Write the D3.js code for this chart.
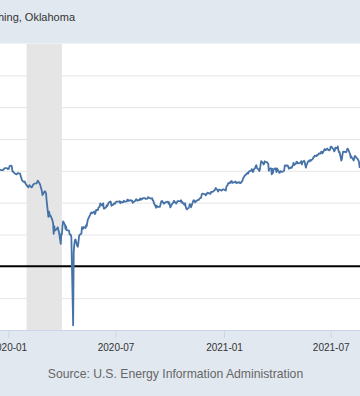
<!DOCTYPE html>
<html>
<head>
<meta charset="utf-8">
<script src="https://cdn.jsdelivr.net/npm/d3@7"></script>
<style>
  html, body { margin: 0; padding: 0; background: #e1e8f0; }
  svg { display: block; font-family: "Liberation Sans", Arial, sans-serif; }
</style>
</head>
<body>
<svg id="chart" width="360" height="396"></svg>
<script>
var TITLE = "Crude Oil Prices: West Texas Intermediate (WTI) - Cushing, Oklahoma";
var SOURCE = "Source: U.S. Energy Information Administration";

// tick labels shown on the x axis
var X_TICKS = ["2020-01-01", "2020-07-01", "2021-01-01", "2021-07-01"];
var Y_GRID = [-20, 0, 20, 40, 60, 80, 100, 120];

// recession shading (start, end)
var RECESSION = ["2020-02-01", "2020-04-01"];

// daily WTI spot price, dollars per barrel
var obsDates = [
  "2019-12-18","2019-12-20","2019-12-23","2019-12-26","2019-12-27","2019-12-30","2019-12-31",
  "2020-01-02","2020-01-03","2020-01-06","2020-01-07","2020-01-08","2020-01-09","2020-01-10","2020-01-13","2020-01-15","2020-01-17","2020-01-21","2020-01-22","2020-01-23","2020-01-24","2020-01-27","2020-01-29","2020-01-30","2020-01-31",
  "2020-02-03","2020-02-04","2020-02-06","2020-02-07","2020-02-10","2020-02-12","2020-02-14","2020-02-18","2020-02-20","2020-02-21","2020-02-24","2020-02-25","2020-02-26","2020-02-27","2020-02-28",
  "2020-03-02","2020-03-03","2020-03-04","2020-03-05","2020-03-06","2020-03-09","2020-03-10","2020-03-11","2020-03-12","2020-03-13","2020-03-16","2020-03-17","2020-03-18","2020-03-19","2020-03-20","2020-03-23","2020-03-24","2020-03-25","2020-03-26","2020-03-27","2020-03-30","2020-03-31",
  "2020-04-01","2020-04-02","2020-04-03","2020-04-06","2020-04-07","2020-04-08","2020-04-09","2020-04-13","2020-04-14","2020-04-15","2020-04-16","2020-04-17","2020-04-20","2020-04-21","2020-04-22","2020-04-23","2020-04-24","2020-04-27","2020-04-28","2020-04-29","2020-04-30",
  "2020-05-01","2020-05-04","2020-05-05","2020-05-06","2020-05-07","2020-05-08","2020-05-11","2020-05-12","2020-05-13","2020-05-14","2020-05-15","2020-05-18","2020-05-19","2020-05-20","2020-05-21","2020-05-22","2020-05-26","2020-05-27","2020-05-28","2020-05-29",
  "2020-06-01","2020-06-02","2020-06-03","2020-06-04","2020-06-05","2020-06-08","2020-06-09","2020-06-10","2020-06-11","2020-06-12","2020-06-15","2020-06-16","2020-06-17","2020-06-18","2020-06-19","2020-06-22","2020-06-23","2020-06-24","2020-06-25","2020-06-26","2020-06-29","2020-06-30",
  "2020-07-01","2020-07-02","2020-07-06","2020-07-07","2020-07-08","2020-07-09","2020-07-10","2020-07-13","2020-07-14","2020-07-15","2020-07-16","2020-07-17","2020-07-20","2020-07-21","2020-07-22","2020-07-23","2020-07-24","2020-07-27","2020-07-28","2020-07-29","2020-07-30","2020-07-31",
  "2020-08-03","2020-08-04","2020-08-05","2020-08-06","2020-08-07","2020-08-10","2020-08-11","2020-08-12","2020-08-13","2020-08-14","2020-08-17","2020-08-18","2020-08-19","2020-08-20","2020-08-21","2020-08-24","2020-08-25","2020-08-26","2020-08-27","2020-08-28","2020-08-31",
  "2020-09-01","2020-09-02","2020-09-03","2020-09-04","2020-09-08","2020-09-09","2020-09-10","2020-09-11","2020-09-14","2020-09-15","2020-09-16","2020-09-17","2020-09-18","2020-09-21","2020-09-22","2020-09-23","2020-09-24","2020-09-25","2020-09-28","2020-09-29","2020-09-30",
  "2020-10-01","2020-10-02","2020-10-05","2020-10-06","2020-10-07","2020-10-08","2020-10-09","2020-10-12","2020-10-13","2020-10-14","2020-10-15","2020-10-16","2020-10-19","2020-10-20","2020-10-21","2020-10-22","2020-10-23","2020-10-26","2020-10-27","2020-10-28","2020-10-29","2020-10-30",
  "2020-11-02","2020-11-03","2020-11-04","2020-11-05","2020-11-06","2020-11-09","2020-11-10","2020-11-11","2020-11-12","2020-11-13","2020-11-16","2020-11-17","2020-11-18","2020-11-19","2020-11-20","2020-11-23","2020-11-24","2020-11-25","2020-11-27","2020-11-30",
  "2020-12-01","2020-12-02","2020-12-03","2020-12-04","2020-12-07","2020-12-08","2020-12-09","2020-12-10","2020-12-11","2020-12-14","2020-12-15","2020-12-16","2020-12-17","2020-12-18","2020-12-21","2020-12-22","2020-12-23","2020-12-24","2020-12-28","2020-12-29","2020-12-30","2020-12-31",
  "2021-01-04","2021-01-05","2021-01-06","2021-01-07","2021-01-08","2021-01-11","2021-01-12","2021-01-13","2021-01-14","2021-01-15","2021-01-19","2021-01-20","2021-01-21","2021-01-22","2021-01-25","2021-01-26","2021-01-27","2021-01-28","2021-01-29",
  "2021-02-01","2021-02-02","2021-02-03","2021-02-04","2021-02-05","2021-02-08","2021-02-09","2021-02-10","2021-02-11","2021-02-12","2021-02-16","2021-02-17","2021-02-18","2021-02-19","2021-02-22","2021-02-23","2021-02-24","2021-02-25","2021-02-26",
  "2021-03-01","2021-03-02","2021-03-03","2021-03-04","2021-03-05","2021-03-08","2021-03-09","2021-03-10","2021-03-11","2021-03-12","2021-03-15","2021-03-16","2021-03-17","2021-03-18","2021-03-19","2021-03-22","2021-03-23","2021-03-24","2021-03-25","2021-03-26","2021-03-29","2021-03-30","2021-03-31",
  "2021-04-01","2021-04-05","2021-04-06","2021-04-07","2021-04-08","2021-04-09","2021-04-12","2021-04-13","2021-04-14","2021-04-15","2021-04-16","2021-04-19","2021-04-20","2021-04-21","2021-04-22","2021-04-23","2021-04-26","2021-04-27","2021-04-28","2021-04-29","2021-04-30",
  "2021-05-03","2021-05-04","2021-05-05","2021-05-06","2021-05-07","2021-05-10","2021-05-11","2021-05-12","2021-05-13","2021-05-14","2021-05-17","2021-05-18","2021-05-19","2021-05-20","2021-05-21","2021-05-24","2021-05-25","2021-05-26","2021-05-27","2021-05-28",
  "2021-06-01","2021-06-02","2021-06-03","2021-06-04","2021-06-07","2021-06-08","2021-06-09","2021-06-10","2021-06-11","2021-06-14","2021-06-15","2021-06-16","2021-06-17","2021-06-18","2021-06-21","2021-06-22","2021-06-23","2021-06-24","2021-06-25","2021-06-28","2021-06-29","2021-06-30",
  "2021-07-01","2021-07-02","2021-07-06","2021-07-07","2021-07-08","2021-07-09","2021-07-12","2021-07-13","2021-07-14","2021-07-15","2021-07-16","2021-07-19","2021-07-20","2021-07-21","2021-07-22","2021-07-23","2021-07-26","2021-07-27","2021-07-28","2021-07-29","2021-07-30",
  "2021-08-02","2021-08-03","2021-08-04","2021-08-05","2021-08-06","2021-08-09","2021-08-10","2021-08-11","2021-08-12","2021-08-13","2021-08-16","2021-08-17","2021-08-18","2021-08-19","2021-08-20"
];
var obsValues = [
  60.9,60.4,60.5,61.7,61.7,61.7,61.1,
  61.2,63.0,63.3,62.7,59.6,59.6,59.0,58.1,57.8,58.5,58.3,56.7,55.6,54.2,53.1,53.3,52.1,51.6,
  50.1,49.6,51.0,50.3,49.6,51.2,52.0,52.1,53.8,53.4,51.4,49.9,48.7,47.1,44.8,
  46.7,47.2,46.8,45.9,41.3,31.1,34.4,32.9,31.5,31.7,28.7,26.9,20.4,25.2,22.4,23.4,24.0,24.5,22.6,21.5,14.1,20.5,
  20.3,25.3,28.3,26.2,23.6,25.1,22.8,22.4,20.1,19.9,19.9,18.3,-37.0,8.9,13.8,16.5,16.9,12.8,12.3,15.1,18.8,
  19.8,20.5,24.6,23.9,23.6,24.7,24.1,25.8,25.3,27.6,29.4,31.7,32.5,33.5,33.9,33.3,34.4,32.8,33.7,35.5,
  35.4,36.8,37.3,37.4,39.6,38.2,38.9,39.6,36.3,36.3,37.1,38.4,37.9,38.8,39.8,40.7,40.4,38.0,38.7,38.5,39.7,39.3,
  39.8,40.7,40.6,40.6,40.9,39.6,40.6,40.1,40.3,41.2,40.8,40.6,40.8,41.9,41.9,41.1,41.3,41.6,41.1,41.3,39.9,40.3,
  41.0,41.7,42.2,41.9,41.2,41.9,41.6,42.7,42.2,42.0,42.9,42.9,42.9,42.8,42.3,42.6,43.4,43.4,43.0,42.9,42.6,
  42.8,41.5,41.4,39.8,36.8,38.1,37.3,37.3,37.3,38.3,40.2,41.0,41.1,39.3,39.8,39.9,40.3,40.3,40.6,39.3,40.2,
  38.7,37.0,39.2,39.7,39.9,41.2,40.6,39.4,40.2,41.0,40.9,40.9,41.1,41.5,40.0,40.6,39.9,38.6,39.6,37.4,36.2,35.8,
  36.8,37.7,39.1,38.8,37.1,40.3,41.4,41.5,41.2,40.1,41.4,41.4,41.8,41.7,42.4,43.1,44.9,45.7,45.5,45.3,
  44.6,45.3,45.6,46.3,45.8,45.6,45.5,46.8,46.6,47.0,47.6,47.8,48.4,49.2,47.8,47.0,48.1,48.2,47.6,48.0,48.4,48.4,
  47.6,49.9,50.6,50.8,52.2,52.3,53.2,52.9,53.6,52.4,52.9,53.3,53.1,52.3,52.8,52.6,52.9,52.3,52.2,
  53.5,54.8,55.7,56.2,56.9,57.9,58.4,58.7,58.3,59.5,60.1,61.1,60.5,59.2,61.7,61.7,63.2,63.5,61.7,
  60.6,59.8,61.3,63.8,66.1,65.0,64.0,64.4,66.0,65.6,65.4,64.8,64.6,60.0,61.4,61.6,57.8,61.2,58.6,60.9,61.6,60.6,59.2,
  61.5,58.7,59.3,59.8,59.6,59.3,59.7,60.2,63.2,63.5,63.1,63.4,62.5,61.4,61.5,62.1,61.9,62.9,63.9,65.0,63.6,
  64.5,65.7,65.6,64.7,64.7,65.0,65.3,66.1,64.0,65.4,66.3,65.5,63.4,62.0,63.6,66.1,65.9,66.2,66.9,66.3,
  67.7,68.8,68.8,69.6,69.2,70.0,69.9,70.3,70.9,70.9,72.1,72.1,71.0,71.6,73.7,73.0,73.1,73.3,74.0,72.9,72.9,73.5,
  75.2,75.2,73.4,72.2,72.9,74.6,74.1,75.3,73.1,71.6,71.8,66.4,67.4,70.3,71.9,72.1,71.9,71.6,72.4,73.6,73.9,
  71.3,70.5,68.2,69.1,68.3,66.5,68.3,69.3,69.2,68.5,67.3,66.6,65.5,62.3,62.1
];

var parseDate = d3.utcParse("%Y-%m-%d");
var data = obsDates.map(function (d, i) {
  return { date: parseDate(d), value: obsValues[i] };
});

var W = 360, H = 396;
var PLOT_TOP = 43.5, PLOT_BOTTOM = 330;

var svg = d3.select("#chart");

// header + footer background
svg.append("rect").attr("x", 0).attr("y", 0).attr("width", W).attr("height", H).attr("fill", "#e1e8f0");
svg.append("rect").attr("x", 0).attr("y", PLOT_TOP).attr("width", W).attr("height", PLOT_BOTTOM - PLOT_TOP).attr("fill", "#ffffff");

// scales anchored on the visible tick positions
var x = d3.scaleUtc()
  .domain([parseDate(X_TICKS[0]), parseDate(X_TICKS[3])])
  .range([8.3, 330.7]);
var y = d3.scaleLinear().domain([-40, 140]).range([PLOT_BOTTOM, PLOT_TOP]);

svg.append("defs").append("clipPath").attr("id", "plot-clip")
  .append("rect").attr("x", 0).attr("y", PLOT_TOP).attr("width", W).attr("height", PLOT_BOTTOM - PLOT_TOP);

var plot = svg.append("g").attr("clip-path", "url(#plot-clip)");

// gridlines
var yGrid = d3.axisLeft(y).tickValues(Y_GRID).tickSize(-W).tickFormat("");
plot.append("g").attr("class", "y-grid").call(yGrid)
  .call(function (g) {
    g.select(".domain").remove();
    g.selectAll("line").attr("stroke", "#e6e6e6").attr("stroke-width", 1);
  });

// recession band
plot.append("rect")
  .attr("x", x(parseDate(RECESSION[0])))
  .attr("y", PLOT_TOP)
  .attr("width", x(parseDate(RECESSION[1])) - x(parseDate(RECESSION[0])))
  .attr("height", PLOT_BOTTOM - PLOT_TOP)
  .attr("fill", "#e5e5e5");

// zero line
plot.append("line")
  .attr("x1", 0).attr("x2", W)
  .attr("y1", y(0)).attr("y2", y(0))
  .attr("stroke", "#000").attr("stroke-width", 2);

// price line
var line = d3.line()
  .defined(function (d) { return d.value != null; })
  .x(function (d) { return x(d.date); })
  .y(function (d) { return y(d.value); });

plot.append("path")
  .datum(data)
  .attr("d", line)
  .attr("fill", "none")
  .attr("stroke", "#4572a7")
  .attr("stroke-width", 1.8)
  .attr("stroke-linejoin", "round");

// x axis
var xAxis = d3.axisBottom(x)
  .tickValues(X_TICKS.map(parseDate))
  .tickSize(8)
  .tickPadding(6)
  .tickFormat(d3.utcFormat("%Y-%m"));

svg.append("g").attr("class", "x-axis")
  .attr("transform", "translate(0," + PLOT_BOTTOM + ")")
  .call(xAxis)
  .call(function (g) {
    g.select(".domain").remove();
    g.selectAll("line").attr("stroke", "#ccd6eb");
    g.selectAll("text").attr("fill", "#333").attr("font-size", "10px")
      .attr("font-family", "Liberation Sans, Arial, sans-serif");
  });
svg.append("line").attr("x1", 0).attr("x2", W)
  .attr("y1", PLOT_BOTTOM + 0.5).attr("y2", PLOT_BOTTOM + 0.5)
  .attr("stroke", "#ccd6eb");

// title (starts left of the visible frame)
svg.append("text")
  .attr("x", 75).attr("y", 21)
  .attr("text-anchor", "end")
  .attr("font-size", "11px")
  .attr("fill", "#333")
  .text(TITLE);

// source
svg.append("text")
  .attr("x", 175.5).attr("y", 378)
  .attr("text-anchor", "middle")
  .attr("font-size", "12.2px")
  .attr("fill", "#666")
  .text(SOURCE);
</script>
</body>
</html>
